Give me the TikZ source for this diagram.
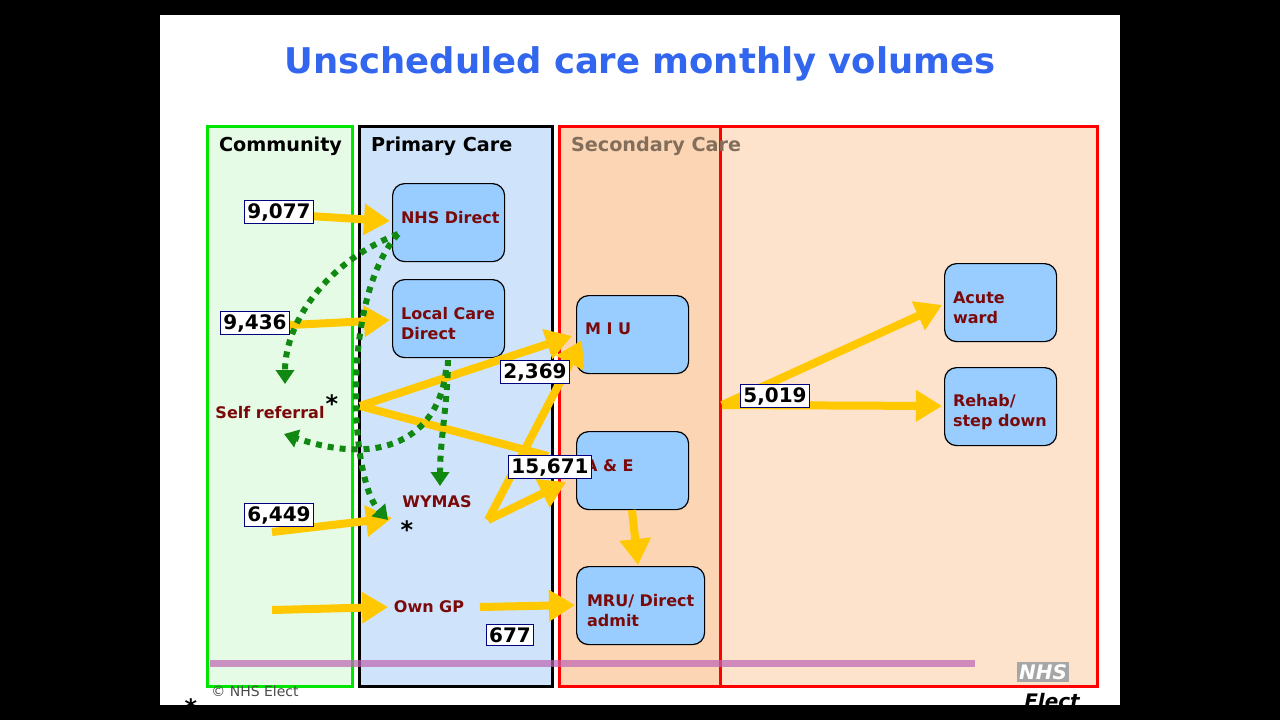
\documentclass[tikz,border=0pt]{standalone}
\usepackage{fontspec}
\setmainfont{DejaVu Sans}
\usetikzlibrary{arrows.meta}
\definecolor{ttl}{HTML}{3366EE}
\definecolor{yel}{HTML}{FFC800}
\definecolor{grn}{HTML}{118811}
\definecolor{boxb}{HTML}{99CCFF}
\definecolor{maroon}{HTML}{7A0A0A}
\definecolor{pinkline}{RGB}{190,100,180}
\definecolor{peachA}{RGB}{252,214,180}
\definecolor{peachB}{RGB}{253,227,204}
\definecolor{lgreen}{RGB}{230,251,230}
\definecolor{lblue}{RGB}{207,228,250}
\definecolor{seccol}{RGB}{130,110,90}
\tikzset{
  flowbox/.style={draw=black,fill=boxb,rounded corners=6pt,line width=0.6pt,minimum width=56pt,minimum height=39pt,anchor=north west,inner sep=0pt},
  btxt/.style={font=\fontsize{8}{10}\selectfont\bfseries,text=maroon,align=left},
  numbox/.style={draw=blue!50!black,fill=white,line width=0.6pt,font=\fontsize{10}{11}\selectfont\bfseries,inner sep=1.5pt},
  yarrow/.style={draw=yel,line width=4pt,-{Triangle[length=13pt,width=15pt]}},
  yline/.style={draw=yel,line width=4pt},
  garrow/.style={draw=grn,line width=3pt,dash pattern=on 3pt off 3pt,-{Triangle[length=7pt,width=9pt]}},
  lane/.style={line width=1.5pt},
  head/.style={font=\fontsize{9.6}{12}\selectfont\bfseries,anchor=west}
}
\begin{document}
\begin{tikzpicture}[x=0.5pt,y=-0.5pt]
\fill[black] (0,0) rectangle (1280,720);
\useasboundingbox (0,0) rectangle (1280,720);
\fill[white] (160,15) rectangle (1120,705);
\node[font=\fontsize{17.7}{22}\selectfont\bfseries,text=ttl] (title) at (640,64) {Unscheduled care monthly volumes};
% lanes
\draw[lane,draw=green!90!black,fill=lgreen] (207,126) rectangle (352,686);
\draw[lane,draw=black,fill=lblue] (359,126) rectangle (552,686);
\draw[lane,draw=red,fill=peachA] (559,126) rectangle (720,686);
\draw[lane,draw=red,fill=peachB] (720,126) rectangle (1097,686);
\fill[pinkline,opacity=0.7] (210,660) rectangle (975,667);
\node[head] (hc) at (212,146) {Community};
\node[head] (hp) at (364,146) {Primary Care};
\node[head,text=seccol] (hs) at (564,146) {Secondary Care};
% boxes
\node[flowbox] (nhs) at (392,183) {};
\node[btxt,anchor=west] at (394,218) {NHS Direct};
\node[flowbox] (lcd) at (392,279) {};
\node[btxt,anchor=west] at (394,324) {Local Care\\Direct};
\node[flowbox] (miu) at (576,295) {};
\node[btxt,anchor=west] at (578,329) {M I U};
\node[flowbox] (ae) at (576,431) {};
\node[btxt,anchor=west] at (578,466) {A \& E};
\node[flowbox,minimum width=64pt] (mru) at (576,566) {};
\node[btxt,anchor=west] at (580,611) {MRU/ Direct\\admit};
\node[flowbox] (acute) at (944,263) {};
\node[btxt,anchor=west] at (946,308) {Acute\\ward};
\node[flowbox] (rehab) at (944,367) {};
\node[btxt,anchor=west] at (946,412) {Rehab/\\step down};
% texts
\node[btxt] (self) at (270,413) {Self referral};
\node[font=\fontsize{12}{12}\selectfont\bfseries] (s1) at (332,404) {*};
\node[btxt] (wymas) at (437,502) {WYMAS};
\node[font=\fontsize{12}{12}\selectfont\bfseries] (s2) at (407,530) {*};
\node[btxt] (gp) at (429,607) {Own GP};
% coordinates
\coordinate (c1) at (310,216); \coordinate (c2) at (390,221);
\coordinate (c3) at (290,325); \coordinate (c4) at (390,320);
\coordinate (c5) at (272,532); \coordinate (c6) at (392,518);
\coordinate (c7) at (272,610); \coordinate (c8) at (388,607);
\coordinate (c9) at (480,607); \coordinate (c10) at (575,605);
\coordinate (sr) at (360,406); \coordinate (mi) at (572,336);
\coordinate (aeL) at (548,456);
\coordinate (wy) at (488,520); \coordinate (mi2) at (582,340); \coordinate (ae2) at (566,482);
\coordinate (aeB) at (632,510); \coordinate (mruT) at (638,565);
\coordinate (sc) at (722,405); \coordinate (ac) at (942,305); \coordinate (re) at (942,406);
% yellow arrows
\draw[yarrow] (c1) -- (c2);
\draw[yarrow] (c3) -- (c4);
\draw[yarrow] (c5) -- (c6);
\draw[yarrow] (c7) -- (c8);
\draw[yarrow] (c9) -- (c10);
\draw[yarrow] (sr) -- (mi);
\draw[yline] (sr) -- (aeL);
\draw[yarrow] (wy) -- (mi2);
\draw[yarrow] (wy) -- (ae2);
\draw[yarrow] (aeB) -- (mruT);
\draw[yarrow] (sc) -- (ac);
\draw[yarrow] (sc) -- (re);
% green dotted
\coordinate (g0) at (398,234); \coordinate (g1) at (285,384);
\coordinate (g2) at (388,520);
\coordinate (g3) at (448,360); \coordinate (g4) at (440,486);
\coordinate (g5) at (446,370); \coordinate (g6) at (284,434);
\draw[garrow] (g0) .. controls (330,260) and (285,320) .. (g1);
\draw[garrow] (g0) .. controls (340,300) and (350,480) .. (g2);
\draw[garrow] (g3) .. controls (448,400) and (440,440) .. (g4);
\draw[garrow] (g5) .. controls (440,430) and (390,470) .. (g6);
% numbers
\node[numbox] (n1) at (279,212) {9,077};
\node[numbox] (n2) at (255,323) {9,436};
\node[numbox] (n3) at (535,372) {2,369};
\node[numbox] (n4) at (550,467) {15,671};
\node[numbox] (n5) at (279,515) {6,449};
\node[numbox] (n6) at (510,635) {677};
\node[numbox] (n7) at (775,396) {5,019};
% footer
\node[font=\fontsize{7}{8}\selectfont,text=black!70] (copy) at (255,691) {© NHS Elect};
\node[font=\fontsize{12}{12}\selectfont\bfseries] (s3) at (191,708) {*};
\node[fill=black!35,text=white,font=\fontsize{10}{10}\selectfont\bfseries\itshape,inner sep=1pt] (logo) at (1043,672) {NHS};
\node[font=\fontsize{10}{10}\selectfont\bfseries\itshape] (elect) at (1052,701) {Elect};
\end{tikzpicture}
\end{document}
